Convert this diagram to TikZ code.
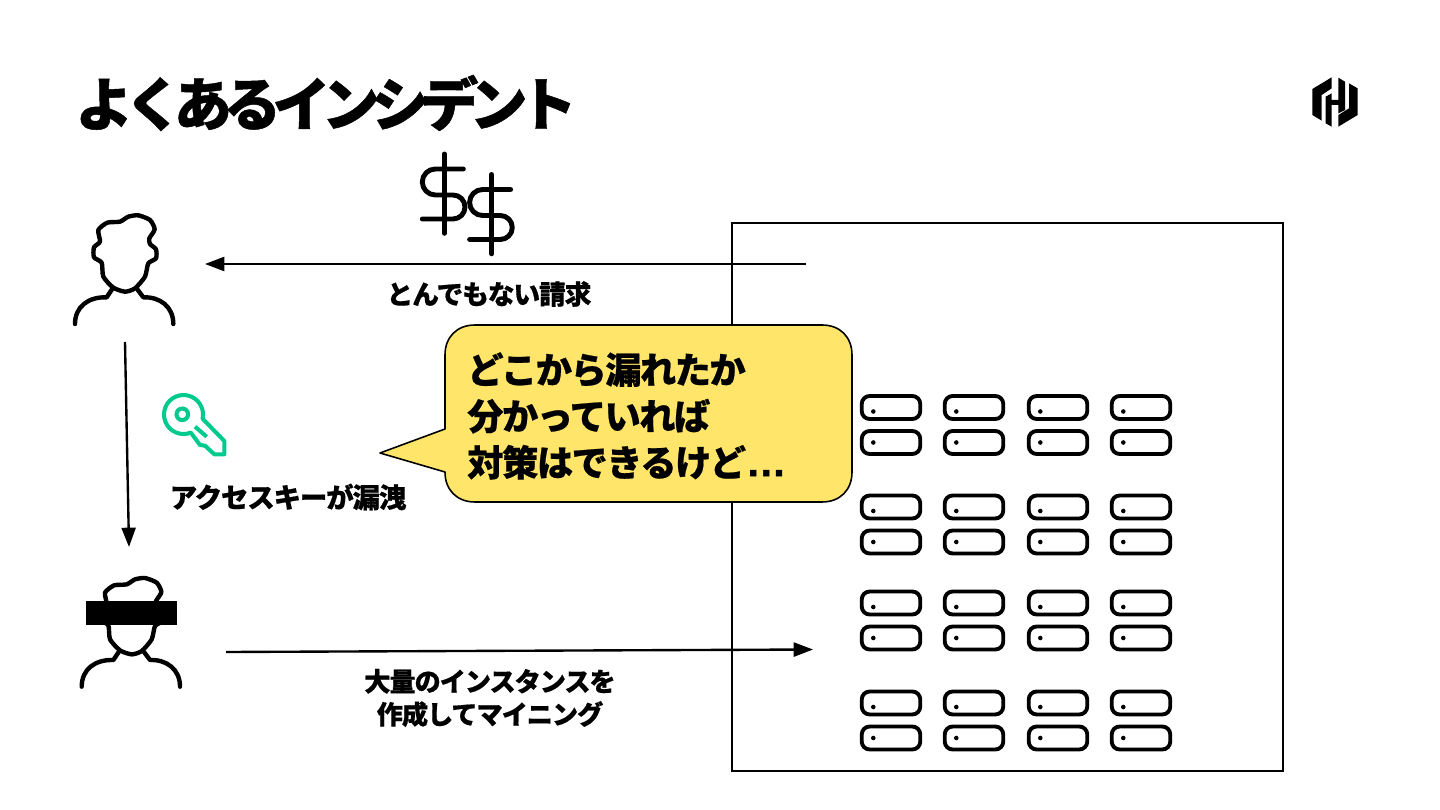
\documentclass[tikz,border=0pt]{standalone}
\usepackage{fontspec}
\usepackage{xcolor}
\usetikzlibrary{arrows.meta}
\setmainfont{Liberation Sans}
\newfontfamily\cjk[BoldFont={Noto Sans CJK JP Black},BoldFeatures={FakeBold=0.6,LetterSpace=-4}]{Noto Sans CJK JP}
\newfontfamily\titlefont[FakeBold=0.8,LetterSpace=-15]{Noto Sans CJK JP Black}
\newfontfamily\latinfont[FakeBold=1.5]{Liberation Sans Bold}
\definecolor{keygreen}{RGB}{0,202,142}
\definecolor{calloutyellow}{RGB}{255,229,105}

\begin{document}
\begin{tikzpicture}[
    x=0.02cm, y=-0.02cm,
    label/.style={font=\cjk\bfseries\fontsize{15.2}{18.7}\selectfont, align=center},
    flow/.style={line width=1.35pt, -{Stealth[length=11pt,width=8pt,inset=0pt]}},
    icon/.style={line width=2.5pt, line cap=round, line join=round},
    serverbox/.style={draw, line width=2.2pt, rounded corners=4.5pt, minimum width=1.17cm, minimum height=0.46cm, inner sep=0pt},
    person/.pic={
        \draw[icon, fill=white] plot[smooth cycle, tension=0.4] coordinates {(155,368) (132,352) (132,322) (150,305) (145,270) (172,248) (210,245) (235,230) (265,226) (300,240) (314,268) (298,295) (300,312) (318,328) (318,355) (295,370) (285,410) (255,445) (225,455) (190,443) (160,410)};
        \draw[icon] (75,552) .. controls (75,500) and (115,470) .. (170,472) -- (186,448);
        \draw[icon] (370,552) .. controls (370,500) and (330,470) .. (280,472) -- (262,448);
    },
    dollar/.pic={
        \draw[icon, line width=2.8pt] (34.3,9) -- (34.3,88.3);
        \draw[icon, line width=2.8pt] (53.3,24) -- (25.3,24) arc[start angle=270, end angle=90, radius=13] -- (43,50) arc[start angle=270, end angle=450, radius=12] -- (12.3,74);
    }
]
    \useasboundingbox (0,0) rectangle (1440,810);

    % Title
    \node[anchor=west, inner sep=0pt, font=\titlefont\fontsize{33}{38}\selectfont] (title) at (75,103) {よくあるインシデント};

    % Logo
    \begin{scope}[shift={(1305,75)}, scale=1/3]
        \fill (80,7) -- (22,42) -- (22,120) -- (50,137) -- (50,60) -- (80,40) -- cycle;
        \fill (80,75) -- (100,75) -- (100,8) -- (120,20) -- (120,105) -- (100,115) -- (100,90) -- (80,90) -- (80,155) -- (62,145) -- (62,65) -- (80,55) -- cycle;
        \fill (100,155) -- (158,120) -- (158,40) -- (132,25) -- (132,100) -- (100,120) -- cycle;
    \end{scope}

    % Cloud account
    \node[draw, line width=0.9pt, minimum width=11.02cm, minimum height=10.96cm, inner sep=0pt] (account) at (1007.5,497) {};

    % Servers
    \foreach \row/\y/\dy in {1/407.5/442.5, 2/507/542, 3/603/638, 4/703/738} {
        \foreach \col/\x in {1/891, 2/974, 3/1058, 4/1141} {
            \node[serverbox] (srv-\row-\col-a) at (\x,\y) {};
            \node[serverbox] (srv-\row-\col-b) at (\x,\dy) {};
            \fill (\x-17.7,\y+4) circle (1.3pt);
            \fill (\x-17.7,\dy) circle (1.3pt);
        }
    }

    % People
    \pic[scale=1/3] (owner) at (50,140) {person};
    \pic[scale=1/3] (thief) at (56.7,502.7) {person};
    \node[fill=black, minimum width=1.82cm, minimum height=0.48cm, inner sep=0pt] (mask) at (131.2,613) {};

    % Money
    \pic (bill1) at (410,145) {dollar};
    \pic (bill2) at (457.3,165.5) {dollar};

    % Key
    \draw[keygreen, line width=2.3pt, line join=round] (190.8,432.6) arc[start angle=68, end angle=372.3, radius=19.5] -- (224.3,441) -- (224.3,454.3) -- (214.3,454.3) -- (205,445.7) -- (200,445) -- cycle;
    \draw[keygreen, line width=2.3pt] (182.3,414.3) circle (3.3pt);
    \draw[keygreen, line width=2.3pt] (195,426.7) -- (206.7,436.7);

    % Arrows
    \coordinate (billfrom) at (806,264);
    \coordinate (billto) at (205,264);
    \coordinate (leakfrom) at (125,342);
    \coordinate (leakto) at (129,547);
    \coordinate (minefrom) at (226,652);
    \coordinate (mineto) at (813,649.5);
    \draw[flow] (billfrom) -- (billto);
    \draw[flow] (leakfrom) -- (leakto);
    \draw[flow] (minefrom) -- (mineto);

    % Labels
    \node[label] (billtext) at (489,294) {とんでもない請求};
    \node[label, font=\cjk\bfseries\fontsize{15.6}{18.7}\selectfont] (leaktext) at (288,497) {アクセスキーが漏洩};
    \node[label, font=\cjk\bfseries\fontsize{14.9}{18.7}\selectfont] (minetext) at (490,698) {大量のインスタンスを\\作成してマイニング};

    % Callout
    \draw[fill=calloutyellow, line width=0.9pt, line join=round] (475,325) -- (822,325) .. controls (840,325) and (852,337) .. (852,355) -- (852,472) .. controls (852,490) and (840,502) .. (822,502) -- (475,502) .. controls (457,502) and (445,490) .. (445,472) -- (380,453) -- (445,429) -- (445,355) .. controls (445,337) and (457,325) .. (475,325) -- cycle;
    \node[anchor=west, align=left, inner sep=0pt, font=\cjk\bfseries\fontsize{20.6}{26.4}\selectfont] (callout) at (467,416) {どこから漏れたか\\分かっていれば\\対策はできるけど{\latinfont\fontsize{23}{26.4}\selectfont …}};
\end{tikzpicture}
\end{document}
